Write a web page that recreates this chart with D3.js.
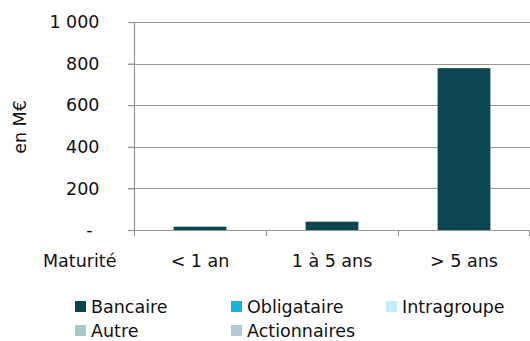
<!DOCTYPE html>
<html>
<head>
<meta charset="utf-8">
<script src="https://cdn.jsdelivr.net/npm/d3@7"></script>
<style>
  html, body { margin: 0; padding: 0; background: #fff; }
  svg { display: block; font-family: "DejaVu Sans", sans-serif; }
</style>
</head>
<body>
<svg id="chart" width="530" height="341"></svg>
<script>
// Maturity buckets and amounts (M€) per financing type
const categories = ["< 1 an", "1 à 5 ans", "> 5 ans"];
const bancaire = [16, 40, 778];
const obligataire = [0, 0, 0];
const intragroupe = [0, 0, 0];
const autre = [0, 0, 0];
const actionnaires = [0, 0, 0];
const seriesNames = ["Bancaire", "Obligataire", "Intragroupe", "Autre", "Actionnaires"];
const seriesColors = ["#0a4550", "#1ab3d8", "#c2eefc", "#a9c9c7", "#b3cbd8"];
const yTicks = [0, 200, 400, 600, 800, 1000];

const seriesValues = [bancaire, obligataire, intragroupe, autre, actionnaires];
const rows = categories.map((c, i) => {
  const r = { cat: c };
  seriesNames.forEach((n, k) => r[n] = seriesValues[k][i]);
  return r;
});

const svg = d3.select("#chart");
const fs = 17.5;
const gridColor = "#979797";
const textColor = "#111";

const x = d3.scaleBand().domain(categories).range([134, 530]).paddingInner(0.6).paddingOuter(0.3);
const y = d3.scaleLinear().domain([0, 1000]).range([230, 22]);

const loc = d3.formatLocale({ decimal: ",", thousands: "\u00a0", grouping: [3], currency: ["", "€"] });
const fmt = loc.format(",d");

// horizontal gridlines
svg.append("g").selectAll("line").data(yTicks).join("line")
  .attr("x1", 128).attr("x2", 530)
  .attr("y1", d => Math.round(y(d)) + 0.5).attr("y2", d => Math.round(y(d)) + 0.5)
  .attr("stroke", gridColor).attr("stroke-width", 1.2);

// stacked bars
const stack = d3.stack().keys(seriesNames)(rows);
svg.append("g").selectAll("g").data(stack).join("g")
  .attr("fill", (d, i) => seriesColors[i])
  .selectAll("rect").data(d => d).join("rect")
  .attr("x", d => x(d.data.cat))
  .attr("width", x.bandwidth())
  .attr("y", d => y(d[1]))
  .attr("height", d => y(d[0]) - y(d[1]));

// y axis
const yAxis = svg.append("g").attr("transform", "translate(134.5,0)")
  .call(d3.axisLeft(y).tickValues(yTicks).tickSize(6).tickPadding(35)
    .tickFormat(d => d === 0 ? "-" : fmt(d)));
yAxis.select(".domain").attr("d", "M0,22V236").attr("stroke", gridColor).attr("stroke-width", 1.2);
yAxis.selectAll(".tick line").attr("stroke", gridColor).attr("stroke-width", 1.2);
yAxis.selectAll(".tick text")
  .attr("font-family", "DejaVu Sans").attr("font-size", fs).attr("fill", textColor)
  .attr("x", d => d === 0 ? -45 : -35)
  .attr("text-anchor", d => d === 0 ? "middle" : "end");

// x axis
const xAxis = svg.append("g").attr("transform", "translate(0,230.5)")
  .call(d3.axisBottom(x).tickSize(0).tickPadding(24));
xAxis.select(".domain").remove();
xAxis.selectAll(".tick text")
  .attr("font-family", "DejaVu Sans").attr("font-size", fs).attr("fill", textColor);
// category separators
const seps = categories.map((c, i) => x(c) - x.step() * x.paddingOuter() + x.step());
svg.append("g").selectAll("line").data(seps).join("line")
  .attr("x1", d => Math.min(d, 529) + 0.5).attr("x2", d => Math.min(d, 529) + 0.5)
  .attr("y1", 230).attr("y2", 236)
  .attr("stroke", gridColor).attr("stroke-width", 1.2);

// axis titles
svg.append("text").attr("transform", "translate(26,127) rotate(-90)")
  .attr("text-anchor", "middle").attr("font-size", fs).attr("fill", textColor).text("en M€");
svg.append("text").attr("x", 43).attr("y", 267)
  .attr("font-size", fs).attr("fill", textColor).text("Maturité");

// legend
const legPos = [[75, 301], [231, 301], [386, 301], [75, 325], [231, 325]];
const leg = svg.append("g").selectAll("g").data(seriesNames).join("g")
  .attr("transform", (d, i) => `translate(${legPos[i][0]},${legPos[i][1]})`);
leg.append("rect").attr("width", 11).attr("height", 11).attr("fill", (d, i) => seriesColors[i]);
leg.append("text").attr("x", 16).attr("y", 11.5).attr("font-size", fs).attr("fill", textColor).text(d => d);
</script>
</body>
</html>
